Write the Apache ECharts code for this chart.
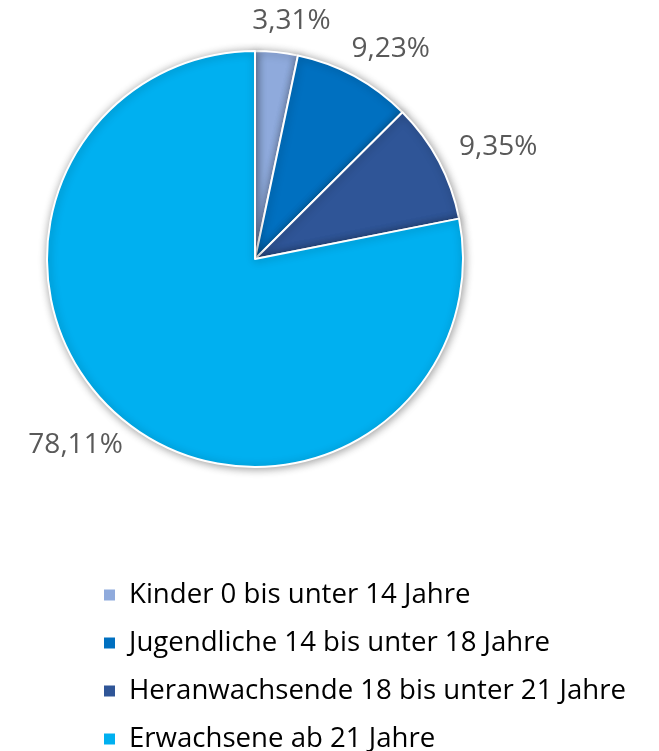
<!DOCTYPE html>
<html>
<head>
<meta charset="utf-8">
<script src="https://cdn.jsdelivr.net/npm/echarts@6/dist/echarts.min.js"></script>
<style>
html,body{margin:0;padding:0;background:#fff;}
#c{width:659px;height:751px;}
</style>
</head>
<body>
<div id="c"></div>
<script>
const categories = ["Kinder 0 bis unter 14 Jahre", "Jugendliche 14 bis unter 18 Jahre", "Heranwachsende 18 bis unter 21 Jahre", "Erwachsene ab 21 Jahre"];
const values = [3.31, 9.23, 9.35, 78.11];
const colors = ["#8FAADC", "#0070C0", "#2F5597", "#00B0F0"];

const chart = echarts.init(document.getElementById('c'), null, {renderer: 'canvas'});
const FONT = 'Open Sans';

// Excel-like "outside end" label placement: the box slides around the anchor point
function excelLabelLayout(params) {
  const pts = params.labelLinePoints;
  if (!pts) return {};
  const p0 = pts[0], p1 = pts[1];
  let dx = p1[0] - p0[0], dy = p1[1] - p0[1];
  const len = Math.sqrt(dx * dx + dy * dy) || 1;
  dx /= len; dy /= len;
  const w = params.labelRect.width, h = params.labelRect.height;
  return {
    x: p1[0] - w * (1 - dx) / 2 + (dx >= 0 ? 9 : -6),
    y: p1[1] - h * (1 - dy) / 2 + 1,
    align: 'left',
    verticalAlign: 'top'
  };
}

chart.setOption({
  animation: false,
  backgroundColor: '#ffffff',
  color: colors,
  legend: {
    orient: 'vertical',
    left: 102,
    top: 581,
    height: 200,
    padding: 0,
    itemWidth: 13,
    itemHeight: 13,
    itemGap: 20,
    icon: 'rect',
    data: categories,
    textStyle: {fontFamily: FONT, fontSize: 27.6, color: '#000', lineHeight: 28, padding: [0,0,0,8]}
  },
  series: [{
    type: 'pie',
    center: [255, 259],
    radius: [0, 208],
    startAngle: 90,
    clockwise: true,
    avoidLabelOverlap: false,
    itemStyle: {borderColor: '#fff', borderWidth: 2, shadowBlur: 9, shadowColor: 'rgba(0,0,0,0.38)', shadowOffsetX: 1, shadowOffsetY: 1},
    label: {
      show: true,
      position: 'outside',
      formatter: p => p.value.toFixed(2).replace('.', ',') + '%',
      fontFamily: FONT, fontSize: 28, lineHeight: 28, color: '#595959'
    },
    labelLine: {show: false, length: 18, length2: 0},
    labelLayout: excelLabelLayout,
    emphasis: {disabled: true},
    data: categories.map((n, i) => ({name: n, value: values[i]}))
  }]
});
</script>
</body>
</html>
